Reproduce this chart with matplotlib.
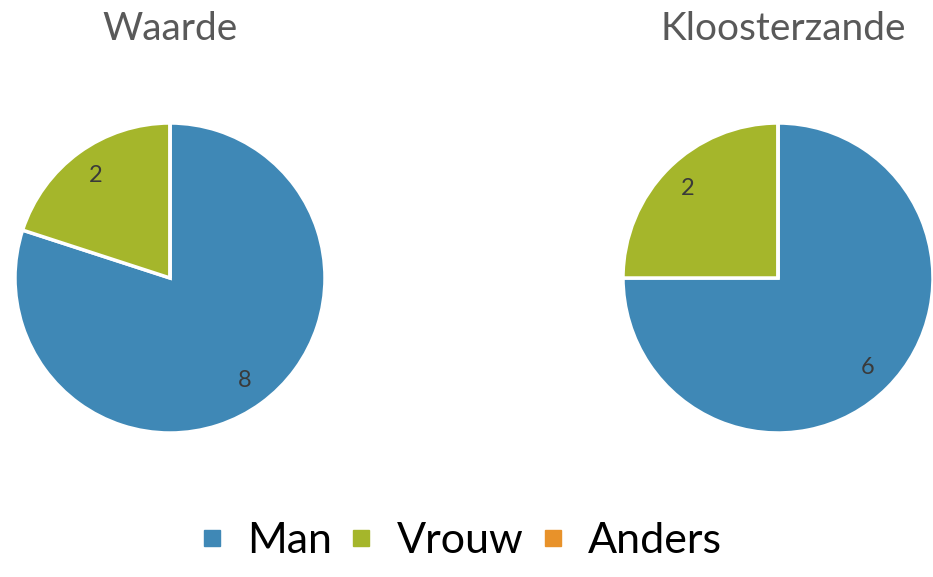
import matplotlib
matplotlib.use("Agg")
import matplotlib.pyplot as plt
from matplotlib.lines import Line2D

categories = ["Man", "Vrouw", "Anders"]
waarde = [8, 2, 0]
kloosterzande = [6, 2, 0]
titles = ["Waarde", "Kloosterzande"]
colors = ["#3F88B6", "#A5B62B", "#E8922A"]

plt.rcParams['font.family'] = ['Lato', 'DejaVu Sans']

W, H = 933, 577
fig = plt.figure(figsize=(W / 100, H / 100), dpi=100)

R = 155
centers = [(170, 278), (778, 278)]
title_x = [170, 783]
series = [waarde, kloosterzande]

for (cx, cy), tx, vals, title in zip(centers, title_x, series, titles):
    ax = fig.add_axes([(cx - R) / W, (H - cy - R) / H, 2 * R / W, 2 * R / H])
    labels = [str(v) if v else "" for v in vals]
    wedges, texts = ax.pie(vals, colors=colors, startangle=90, counterclock=False,
                           labels=labels, labeldistance=0.82,
                           wedgeprops=dict(edgecolor="white", linewidth=2.5),
                           textprops=dict(fontsize=17, color="#3A3A3A"))
    for t in texts:
        t.set_ha("center")
        t.set_va("center")
    ax.set_xlim(-1.0, 1.0)
    ax.set_ylim(-1.0, 1.0)
    ax.set_aspect("equal")
    ax.axis("off")
    fig.text(tx / W, (H - 40) / H, title, ha="center", va="baseline",
             fontsize=28, color="#595959")

handles = [Line2D([], [], marker="s", linestyle="none", markersize=11.5,
                  markerfacecolor=c, markeredgecolor=c) for c in colors]
fig.legend(handles, categories, loc="lower center", bbox_to_anchor=(0.494, -0.038),
           ncol=3, frameon=False, fontsize=31, handlelength=0.55,
           handletextpad=0.55, columnspacing=0.4, labelcolor="black")

fig.savefig("out.png", dpi=100, facecolor="white")
